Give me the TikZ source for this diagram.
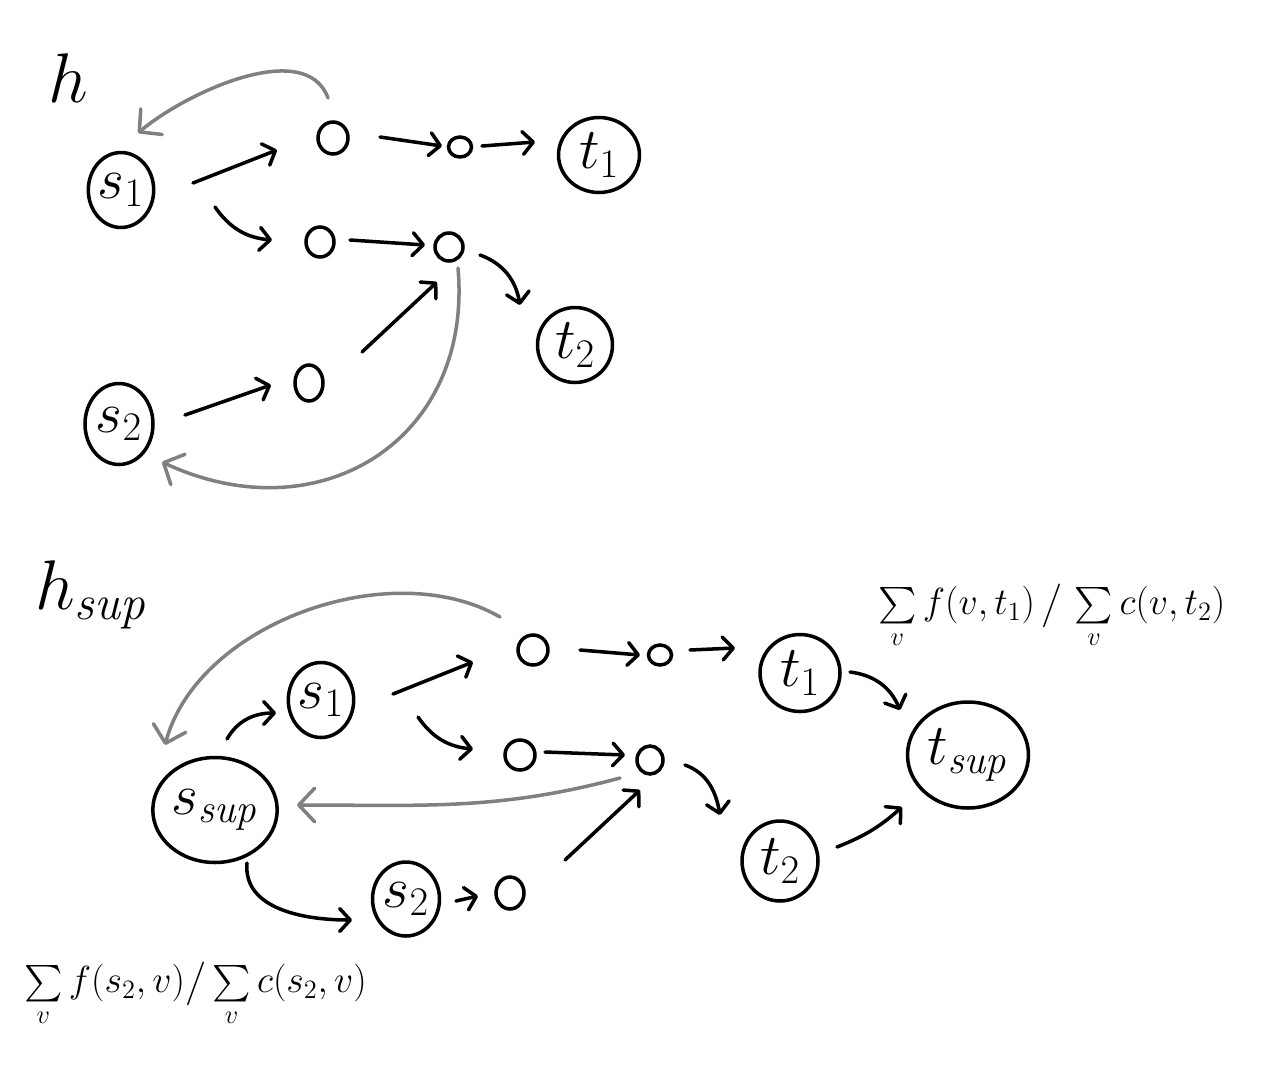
\RequirePackage{fix-cm}
\documentclass[tikz,border=0pt]{standalone}
\usepackage{amsmath}
\usetikzlibrary{arrows.meta,shapes.geometric}
\begin{document}
\begin{tikzpicture}[x=0.02cm,y=-0.02cm,
  lab/.style={draw, ellipse, line width=2pt, inner sep=0pt, font=\fontsize{33}{38}\selectfont},
  dot/.style={draw, ellipse, line width=2pt, inner sep=0pt},
  arr/.style={line width=2pt, line cap=round, -{Straight Barb[round, length=6pt, width=13pt]}},
  back/.style={line width=2pt, line cap=round, draw=gray, -{Straight Barb[round, length=9pt, width=19pt]}},
  ttl/.style={font=\fontsize{40}{44}\selectfont},
  frm/.style={font=\fontsize{21.5}{26}\selectfont}
]
\useasboundingbox (0,0) rectangle (1274,1065);

% ---------- top graph h ----------
\node[ttl] (G) at (68,78) {$h$};
\node[lab, minimum width=1.24cm, minimum height=1.5cm] (s1) at (121,190) {$s_1$};
\node[dot, minimum width=0.6cm, minimum height=0.64cm] (a1) at (333,138) {};
\node[dot, minimum width=0.46cm, minimum height=0.4cm] (a2) at (460,147) {};
\node[lab, minimum width=1.62cm, minimum height=1.5cm] (t1) at (599,155) {$t_1$};
\node[dot, minimum width=0.56cm, minimum height=0.6cm] (b1) at (320,242) {};
\node[dot, minimum width=0.56cm, minimum height=0.56cm] (b2) at (449,247) {};
\node[lab, minimum width=1.5cm, minimum height=1.5cm] (t2) at (575,345) {$t_2$};
\node[lab, minimum width=1.36cm, minimum height=1.62cm] (s2) at (119,424) {$s_2$};
\node[dot, minimum width=0.56cm, minimum height=0.72cm] (c1) at (309,383) {};

\draw[arr] ([shift={(72,-7)}]s1.center) -- ([shift={(-56,12)}]a1.center);
\draw[arr] ([shift={(47,-1)}]a1.center) -- ([shift={(-18,-1)}]a2.center);
\draw[arr] ([shift={(22,-1)}]a2.center) -- ([shift={(-64,-13)}]t1.center);
\draw[arr] ([shift={(94,17)}]s1.center) to[bend right=25] ([shift={(-48,-2)}]b1.center);
\draw[arr] ([shift={(30,-2)}]b1.center) -- ([shift={(-24,-2)}]b2.center);
\draw[arr] ([shift={(31,8)}]b2.center) to[out=-20, in=100] ([shift={(-55,-40)}]t2.center);
\draw[arr] ([shift={(66,-9)}]s2.center) -- ([shift={(-38,2)}]c1.center);
\draw[arr] ([shift={(53,-31)}]c1.center) -- ([shift={(-12,35)}]b2.center);
\draw[back] ([shift={(-5,-40)}]a1.center) to[out=110, in=40, looseness=0.85] ([shift={(17,-57)}]s1.center);
\draw[back] ([shift={(9,21)}]b2.center) to[out=-85, in=-25, looseness=1.25] ([shift={(43,38)}]s2.center);

% ---------- bottom graph h_sup ----------
\node[ttl] (Gs) at (92,595) {$h_{\mathit{sup}}$};
\node[lab, minimum width=2.28cm, minimum height=2.1cm] (ss) at (215,810) {$s_{\mathit{sup}}$};
\node[lab, minimum width=1.22cm, minimum height=1.5cm] (q1) at (321,700) {$s_1$};
\node[dot, minimum width=0.6cm, minimum height=0.6cm] (p1) at (533,650) {};
\node[dot, minimum width=0.46cm, minimum height=0.4cm] (p2) at (660,655) {};
\node[lab, minimum width=1.6cm, minimum height=1.54cm] (u1) at (800,673) {$t_1$};
\node[dot, minimum width=0.6cm, minimum height=0.6cm] (p3) at (520,755) {};
\node[dot, minimum width=0.52cm, minimum height=0.56cm] (p4) at (650,760) {};
\node[lab, minimum width=1.52cm, minimum height=1.6cm] (u2) at (780,861) {$t_2$};
\node[lab, minimum width=1.34cm, minimum height=1.48cm] (q2) at (406,899) {$s_2$};
\node[dot, minimum width=0.56cm, minimum height=0.64cm] (p5) at (510,893) {};
\node[lab, minimum width=2.42cm, minimum height=2.12cm] (ts) at (968,755) {$t_{\mathit{sup}}$};

\draw[arr] ([shift={(12,-71)}]ss.center) to[out=60, in=180] ([shift={(-45,13)}]q1.center);
\draw[arr] ([shift={(72,-6)}]q1.center) -- ([shift={(-60,12)}]p1.center);
\draw[arr] ([shift={(47,0)}]p1.center) -- ([shift={(-20,0)}]p2.center);
\draw[arr] ([shift={(30,-5)}]p2.center) -- ([shift={(-65,-25)}]u1.center);
\draw[arr] ([shift={(97,17)}]q1.center) to[bend right=25] ([shift={(-47,-6)}]p3.center);
\draw[arr] ([shift={(25,-3)}]p3.center) -- ([shift={(-25,-5)}]p4.center);
\draw[arr] ([shift={(35,5)}]p4.center) to[out=-20, in=100] ([shift={(-60,-46)}]u2.center);
\draw[arr] ([shift={(32,53)}]ss.center) to[out=-95, in=180] ([shift={(-54,21)}]q2.center);
\draw[arr] ([shift={(50,2)}]q2.center) -- ([shift={(-32,3)}]p5.center);
\draw[arr] ([shift={(55,-33)}]p5.center) -- ([shift={(-10,30)}]p4.center);
\draw[arr] ([shift={(50,-1)}]u1.center) to[bend left=30] ([shift={(-68,-45)}]ts.center);
\draw[arr] ([shift={(57,-14)}]u2.center) to[bend right=10] ([shift={(-66,52)}]ts.center);
\draw[back] ([shift={(-33,-33)}]p1.center) to[out=150, in=75, looseness=0.9] ([shift={(-50,-65)}]ss.center);
\draw[back] ([shift={(-30,18)}]p4.center) to[out=195, in=0] ([shift={(82,-5)}]ss.center);

% ---------- formulas ----------
\node[frm, anchor=west] (f1) at (872,616) {$\sum\limits_v f(v,t_1)\,\big/\,\sum\limits_v c(v,t_2)$};
\node[frm, anchor=west] (f2) at (18,994) {$\sum\limits_v f(s_2,v)\big/\sum\limits_v c(s_2,v)$};
\end{tikzpicture}
\end{document}
